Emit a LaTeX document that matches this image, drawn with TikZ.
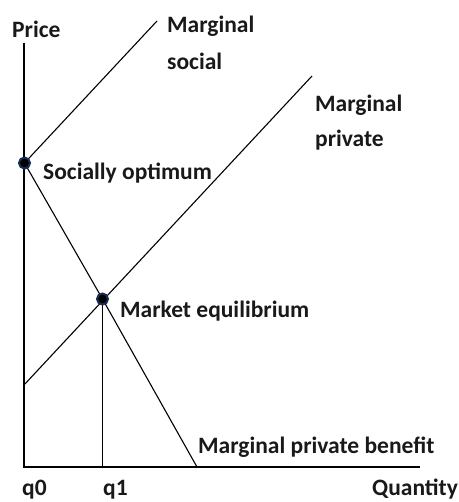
\documentclass[tikz,border=0pt]{standalone}
\usepackage{fontspec}
\setmainfont{Carlito}

\tikzset{
	curve/.style={draw=black, line width=1.1pt},
	point/.style={draw=dotblue, circle, fill=black, line width=2pt, minimum size=11pt, inner sep=0pt},
	lbl/.style={anchor=base west, inner sep=0pt, font=\fontsize{23.5}{28}\selectfont\bfseries, text=black!90}
}
\definecolor{dotblue}{RGB}{24,44,84}

\begin{document}
\begin{tikzpicture}[x=1pt,y=-1pt]
		\useasboundingbox (0,0) rectangle (458,502);
		
		% axes and curve end points
		\coordinate (o) at (24,467);
		\coordinate (ytop) at (24,43);
		\coordinate (xend) at (420,467);
		\coordinate (so) at (24.5,163);
		\coordinate (me) at (102.5,299);
		\coordinate (mstop) at (157,21);
		\coordinate (mpstart) at (24,385);
		\coordinate (mptop) at (312,76);
		\coordinate (mpbend) at (197,467);
		\coordinate (q1base) at (102.5,467);
		
		\draw[curve] (ytop) -- (o) -- (xend);
		\draw[curve] (so) -- (mstop);
		\draw[curve] (mpstart) -- (mptop);
		\draw[curve] (so) -- (me) -- (mpbend);
		\draw[curve] (me) -- (q1base);
		
		\node[point] (sopt) at (so) {};
		\node[point] (meq) at (me) {};
		
		% labels
		\node[lbl] (price) at (12,38) {Price};
		\node[lbl] (ms1) at (167,33) {Marginal};
		\node[lbl] (ms2) at (167,70) {social};
		\node[lbl] (mp1) at (315,112) {Marginal};
		\node[lbl] (mp2) at (315,147) {private};
		\node[lbl] (soptl) at (43,180) {Socially optimum};
		\node[lbl] (meql) at (120,317) {Market equilibrium};
		\node[lbl] (mpb) at (198,453) {Marginal private benefit};
		\node[lbl] (q0) at (22,495) {q0};
		\node[lbl] (q1) at (103,495) {q1};
		\node[lbl] (qty) at (372,495) {Quantity};
		
	\end{tikzpicture}
\end{document}
